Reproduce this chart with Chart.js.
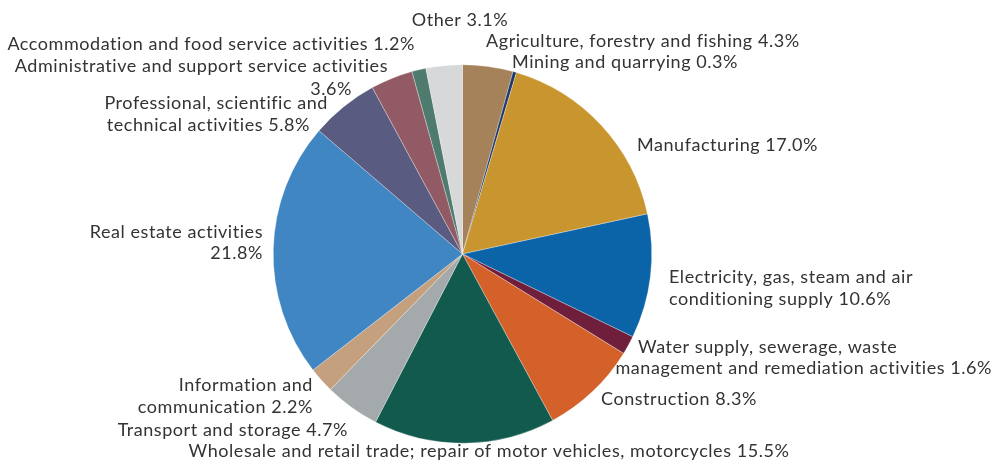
<!DOCTYPE html>
<html>
<head>
<meta charset="utf-8">
<script src="https://cdn.jsdelivr.net/npm/chart.js@4.4.1/dist/chart.umd.min.js"></script>
<style>
html,body{margin:0;padding:0;background:#fff;}
#wrap{position:relative;width:995px;height:462px;}
</style>
</head>
<body>
<div id="wrap"><canvas id="c" width="995" height="462"></canvas></div>
<script>
const categories = [
  "Agriculture, forestry and fishing",
  "Mining and quarrying",
  "Manufacturing",
  "Electricity, gas, steam and air conditioning supply",
  "Water supply, sewerage, waste management and remediation activities",
  "Construction",
  "Wholesale and retail trade; repair of motor vehicles, motorcycles",
  "Transport and storage",
  "Information and communication",
  "Real estate activities",
  "Professional, scientific and technical activities",
  "Administrative and support service activities",
  "Accommodation and food service activities",
  "Other"
];
const shares = [4.3, 0.3, 17.0, 10.6, 1.6, 8.3, 15.5, 4.7, 2.2, 21.8, 5.8, 3.6, 1.2, 3.1];
const colors = ["#a6825a","#1e3a6d","#c8952f","#0b63a8","#6f1f3c","#d4612a","#115a4d","#a4a9ab","#c4a07f","#3f86c3","#5a5b80","#925a65","#4e7b6e","#d6d8da"];

// label layout: words per line, and per-line [align, dx, dy] relative to pie centre
const labelLayout = [
  {words:[99], pos:[["left",23.5,-213]]},
  {words:[99], pos:[["left",49.5,-192]]},
  {words:[99], pos:[["left",174.5,-109]]},
  {words:[5,99], pos:[["left",206.5,23],["left",206.5,45]]},
  {words:[4,99], pos:[["left",175.5,93],["right",529.5,114]]},
  {words:[99], pos:[["left",138.5,145]]},
  {words:[99], pos:[["center",26.5,197]]},
  {words:[99], pos:[["right",-114.5,176]]},
  {words:[2,99], pos:[["right",-149.5,131],["right",-149.5,153]]},
  {words:[3,99], pos:[["right",-199.5,-22],["right",-199.5,-1]]},
  {words:[3,99], pos:[["right",-134.5,-151],["right",-152.5,-129]]},
  {words:[5,99], pos:[["right",-74.5,-188],["right",-110.5,-165]]},
  {words:[99], pos:[["right",-47.5,-210]]},
  {words:[99], pos:[["center",-2.5,-234]]}
];

const labelPlugin = {
  id: 'outerLabels',
  afterDatasetsDraw(chart) {
    const ctx = chart.ctx;
    const meta = chart.getDatasetMeta(0);
    ctx.save();
    ctx.font = '18px Lato, "Open Sans", sans-serif';
    if ('letterSpacing' in ctx) ctx.letterSpacing = '0.55px';
    ctx.fillStyle = '#333333';
    ctx.textBaseline = 'middle';
    meta.data.forEach((arc, i) => {
      const text = categories[i] + ' ' + shares[i].toFixed(1) + '%';
      const words = text.split(' ');
      const lay = labelLayout[i];
      let start = 0;
      lay.words.forEach((n, li) => {
        const line = words.slice(start, start + n).join(' ');
        start += n;
        const p = lay.pos[li];
        ctx.textAlign = p[0];
        ctx.fillText(line, arc.x + p[1], arc.y + p[2]);
      });
    });
    ctx.restore();
  }
};

new Chart(document.getElementById('c'), {
  type: 'pie',
  data: {
    labels: categories,
    datasets: [{
      data: shares,
      backgroundColor: colors,
      borderWidth: 0.5,
      borderColor: 'rgba(255,255,255,0.6)'
    }]
  },
  options: {
    responsive: false,
    animation: false,
    layout: {padding: {top: 64.5, bottom: 18.5, left: 273, right: 343}},
    plugins: {legend: {display: false}, tooltip: {enabled: false}}
  },
  plugins: [labelPlugin]
});
</script>
</body>
</html>
